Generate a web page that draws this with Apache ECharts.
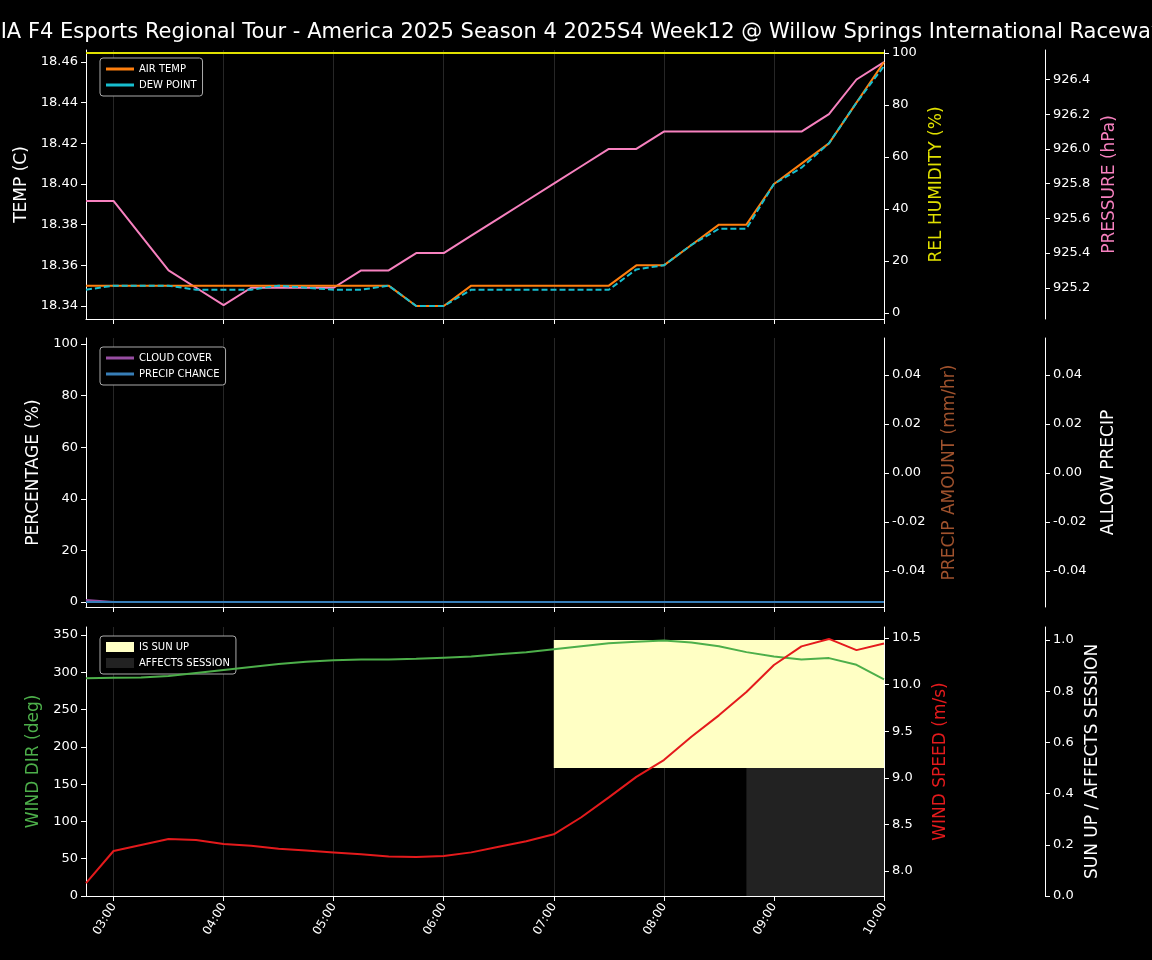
<!DOCTYPE html>
<html>
<head>
<meta charset="utf-8">
<script src="https://cdn.jsdelivr.net/npm/echarts@6/dist/echarts.min.js"></script>
<style>html,body{margin:0;background:#000}#main{width:1152px;height:960px}</style>
</head>
<body>
<div id="main"></div>
<script>
// time axis, every 15 minutes
var times = ["02:45","03:00","03:15","03:30","03:45","04:00","04:15","04:30","04:45","05:00","05:15","05:30","05:45","06:00","06:15","06:30","06:45","07:00","07:15","07:30","07:45","08:00","08:15","08:30","08:45","09:00","09:15","09:30","09:45","10:00"];
var airTemp = [18.35,18.35,18.35,18.35,18.35,18.35,18.35,18.35,18.35,18.35,18.35,18.35,18.34,18.34,18.35,18.35,18.35,18.35,18.35,18.35,18.36,18.36,18.37,18.38,18.38,18.40,18.41,18.42,18.44,18.46];
var dewPoint = [18.348,18.35,18.35,18.35,18.348,18.348,18.348,18.35,18.349,18.348,18.348,18.35,18.34,18.34,18.348,18.348,18.348,18.348,18.348,18.348,18.358,18.36,18.37,18.378,18.378,18.40,18.408,18.42,18.44,18.458];
var humidity = [100,100,100,100,100,100,100,100,100,100,100,100,100,100,100,100,100,100,100,100,100,100,100,100,100,100,100,100,100,100];
var pressure = [925.7,925.7,925.5,925.3,925.2,925.1,925.2,925.2,925.2,925.2,925.3,925.3,925.4,925.4,925.5,925.6,925.7,925.8,925.9,926.0,926.0,926.1,926.1,926.1,926.1,926.1,926.1,926.2,926.4,926.5];
var cloudCover = [0.8,0,0,0,0,0,0,0,0,0,0,0,0,0,0,0,0,0,0,0,0,0,0,0,0,0,0,0,0,0];
var precipChance = [0,0,0,0,0,0,0,0,0,0,0,0,0,0,0,0,0,0,0,0,0,0,0,0,0,0,0,0,0,0];
var windDir = [292,292.5,293,295,299,303,307,311,314,316,317,317,318,319.5,321,324,327,331,335,339,341,342.5,340,335,327,321,317,319,310,290.6];
var windSpeed = [7.87,8.215,8.28,8.343,8.333,8.29,8.27,8.24,8.22,8.20,8.18,8.155,8.15,8.16,8.2,8.26,8.32,8.394,8.577,8.79,9.01,9.19,9.44,9.67,9.92,10.21,10.41,10.49,10.37,10.44];
var sunUp =         [0,0,0,0,0,0,0,0,0,0,0,0,0,0,0,0,0,1,1,1,1,1,1,1,1,1,1,1,1,1];
var affectsSession =[0,0,0,0,0,0,0,0,0,0,0,0,0,0,0,0,0,0,0,0,0,0,0,0,1,1,1,1,1,1];

var tempTicks = [18.34,18.36,18.38,18.40,18.42,18.44,18.46];
var humTicks = [0,20,40,60,80,100];
var presTicks = [925.2,925.4,925.6,925.8,926.0,926.2,926.4];
var pctTicks = [0,20,40,60,80,100];
var precipTicks = [-0.04,-0.02,0,0.02,0.04];
var dirTicks = [0,50,100,150,200,250,300,350];
var speedTicks = [8.0,8.5,9.0,9.5,10.0,10.5];
var sunTicks = [0,0.2,0.4,0.6,0.8,1.0];

// ranges where flag is set -> markArea spans
function spans(flags, y0, y1){
	var out = [], start = -1;
	for(var i = 0; i < flags.length; i ++){
		if(flags[i] && start < 0) start = i;
		if((!flags[i] || i == flags.length - 1) && start >= 0){
			var end = flags[i] ? i : i - 1;
			out.push([{xAxis: times[start], yAxis: y0}, {xAxis: times[end], yAxis: y1}]);
			start = -1;
		}
	}
	return out;
}

var txt = "#ffffff";
var font = "DejaVu Sans";
var isHour = function(i){ return times[i].slice(3) == "00"; };

function xAxis(gi, labels){
	return {
		type: "category", gridIndex: gi, data: times, boundaryGap: false,
		axisLine: {onZero: false, lineStyle: {color: txt}},
		axisTick: {interval: function(i){ return isHour(i); }, length: 5, lineStyle: {color: txt}},
		axisLabel: {show: labels, interval: function(i){ return isHour(i); }, rotate: 60, color: txt, fontFamily: font, fontSize: 12},
		splitLine: {show: true, interval: function(i){ return isHour(i); }, lineStyle: {color: "#262626"}}
	};
}
function yAxis(gi, o){
	return {
		type: "value", gridIndex: gi, min: o.min, max: o.max, position: o.pos || "left", offset: o.offset || 0,
		name: o.name, nameLocation: "middle", nameGap: o.gap,
		nameTextStyle: {color: o.color || txt, fontFamily: font, fontSize: 17},
		axisLine: {show: true, onZero: false, lineStyle: {color: txt}},
		axisTick: {show: true, length: 5, customValues: o.ticks, lineStyle: {color: txt}},
		axisLabel: {color: txt, fontFamily: font, fontSize: 13, customValues: o.ticks,
			formatter: function(v){ return o.fmt ? o.fmt(v) : String(v); }},
		splitLine: {show: false}
	};
}
function legend(top, items, h){
	return {
		left: 100, top: top, orient: "vertical", itemGap: 6, itemWidth: 28, itemHeight: h, icon: "rect",
		backgroundColor: "#000", borderColor: "#aaa", borderWidth: 1, borderRadius: 3, padding: [6, 6, 6, 6],
		textStyle: {color: txt, fontFamily: font, fontSize: 10},
		data: items
	};
}

var chart = echarts.init(document.getElementById("main"));
var option = {
	backgroundColor: "#000",
	animation: false,
	title: {text: "FIA F4 Esports Regional Tour - America 2025 Season 4 2025S4 Week12 @ Willow Springs International Raceway",
		left: "center", top: 17, textStyle: {color: txt, fontFamily: font, fontSize: 21, fontWeight: "normal"}},
	grid: [
		{left: 86, right: 268, top: 50, height: 269},
		{left: 86, right: 268, top: 338, height: 269},
		{left: 86, right: 268, top: 627, height: 269}
	],
	legend: [
		legend(58, [{name: "AIR TEMP"}, {name: "DEW POINT"}], 3),
		legend(347, [{name: "CLOUD COVER"}, {name: "PRECIP CHANCE"}], 3),
		legend(636, [{name: "IS SUN UP"}, {name: "AFFECTS SESSION"}], 10)
	],
	xAxis: [xAxis(0, false), xAxis(1, false), xAxis(2, true)],
	yAxis: [
		yAxis(0, {min: 18.3336, max: 18.4659, ticks: tempTicks, name: "TEMP (C)", gap: 55, fmt: function(v){ return v.toFixed(2); }}),
		yAxis(0, {min: -2.3, max: 101.2, ticks: humTicks, pos: "right", name: "REL HUMIDITY (%)", gap: 40, color: "#e0e000"}),
		yAxis(0, {min: 925.02, max: 926.57, ticks: presTicks, pos: "right", offset: 161, name: "PRESSURE (hPa)", gap: 53, color: "#f781bf", fmt: function(v){ return v.toFixed(1); }}),
		yAxis(1, {min: -1.9, max: 102.3, ticks: pctTicks, name: "PERCENTAGE (%)", gap: 40}),
		yAxis(1, {min: -0.0547, max: 0.0551, ticks: precipTicks, pos: "right", name: "PRECIP AMOUNT (mm/hr)", gap: 57, color: "#a0522d", fmt: function(v){ return v.toFixed(2); }}),
		yAxis(1, {min: -0.0547, max: 0.0551, ticks: precipTicks, pos: "right", offset: 161, name: "ALLOW PRECIP", gap: 55, fmt: function(v){ return v.toFixed(2); }}),
		yAxis(2, {min: 0, max: 360.7, ticks: dirTicks, name: "WIND DIR (deg)", gap: 41, color: "#4daf4a"}),
		yAxis(2, {min: 7.732, max: 10.618, ticks: speedTicks, pos: "right", name: "WIND SPEED (m/s)", gap: 43, color: "#e41a1c", fmt: function(v){ return v.toFixed(1); }}),
		yAxis(2, {min: 0, max: 1.051, ticks: sunTicks, pos: "right", offset: 161, name: "SUN UP / AFFECTS SESSION", gap: 36, fmt: function(v){ return v.toFixed(1); }})
	],
	series: [
		{name: "REL HUMIDITY", type: "line", xAxisIndex: 0, yAxisIndex: 1, data: humidity, symbol: "none", lineStyle: {color: "#e0e000", width: 2}, itemStyle: {color: "#e0e000"}},
		{name: "PRESSURE", type: "line", xAxisIndex: 0, yAxisIndex: 2, data: pressure, symbol: "none", lineStyle: {color: "#f781bf", width: 2}, itemStyle: {color: "#f781bf"}},
		{name: "AIR TEMP", type: "line", xAxisIndex: 0, yAxisIndex: 0, data: airTemp, symbol: "none", lineStyle: {color: "#ff7f0e", width: 2}, itemStyle: {color: "#ff7f0e"}},
		{name: "DEW POINT", type: "line", xAxisIndex: 0, yAxisIndex: 0, data: dewPoint, symbol: "none", lineStyle: {color: "#17becf", width: 2, type: [6, 3]}, itemStyle: {color: "#17becf"}},
		{name: "CLOUD COVER", type: "line", xAxisIndex: 1, yAxisIndex: 3, data: cloudCover, symbol: "none", lineStyle: {color: "#984ea3", width: 2}, itemStyle: {color: "#984ea3"}},
		{name: "PRECIP CHANCE", type: "line", xAxisIndex: 1, yAxisIndex: 3, data: precipChance, symbol: "none", lineStyle: {color: "#377eb8", width: 2}, itemStyle: {color: "#377eb8"}},
		{name: "IS SUN UP", type: "line", xAxisIndex: 2, yAxisIndex: 8, data: [], symbol: "none", itemStyle: {color: "#ffffc4"},
			markArea: {silent: true, itemStyle: {color: "#ffffc4"}, data: spans(sunUp, 0.5, 1.0)}},
		{name: "AFFECTS SESSION", type: "line", xAxisIndex: 2, yAxisIndex: 8, data: [], symbol: "none", itemStyle: {color: "#222222"},
			markArea: {silent: true, itemStyle: {color: "#222222"}, data: spans(affectsSession, 0, 0.5)}},
		{name: "WIND DIR", type: "line", xAxisIndex: 2, yAxisIndex: 6, data: windDir, symbol: "none", z: 5, lineStyle: {color: "#4daf4a", width: 2}},
		{name: "WIND SPEED", type: "line", xAxisIndex: 2, yAxisIndex: 7, data: windSpeed, symbol: "none", z: 5, lineStyle: {color: "#e41a1c", width: 2}}
	]
};
chart.setOption(option);
</script>
</body>
</html>
